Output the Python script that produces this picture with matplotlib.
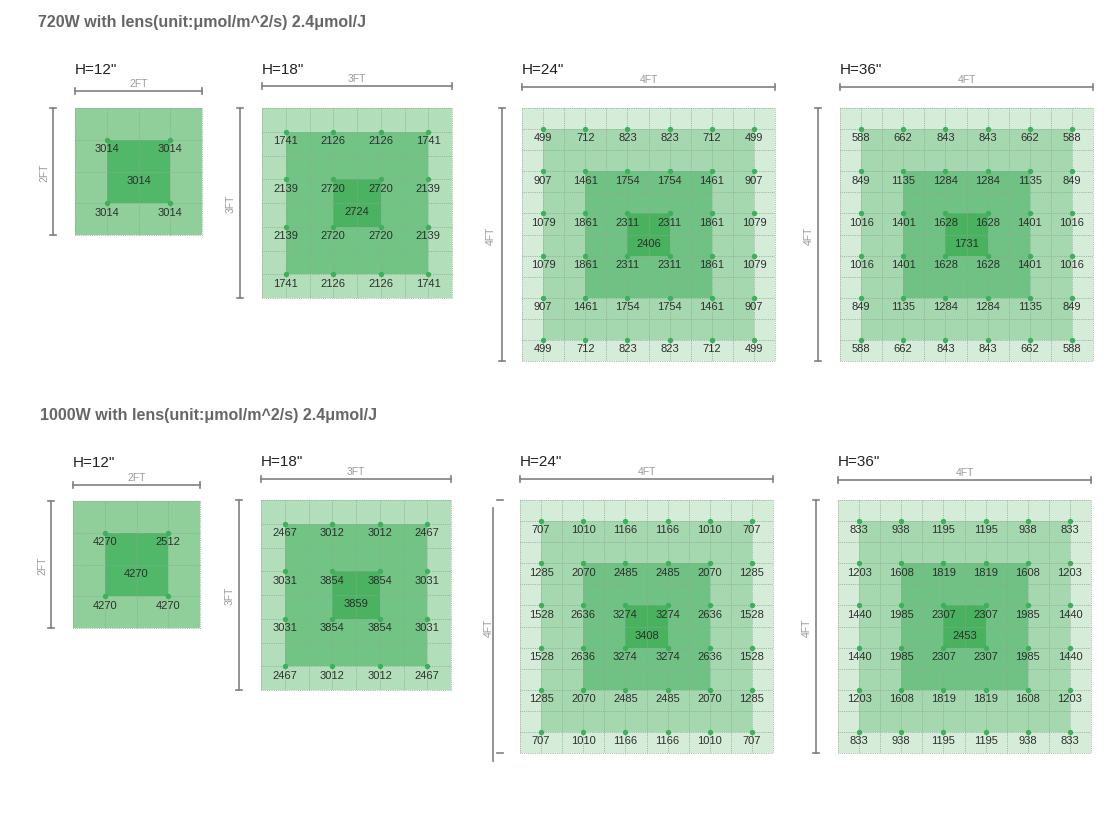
import matplotlib
matplotlib.use('Agg')
import matplotlib.pyplot as plt
from matplotlib.patches import Rectangle

plt.rcParams['font.family'] = ['Liberation Sans', 'DejaVu Sans']

W, H = 1117, 820

# section titles
titles = ['720W with lens(unit:\u03bcmol/m^2/s) 2.4\u03bcmol/J',
          '1000W with lens(unit:\u03bcmol/m^2/s) 2.4\u03bcmol/J']

heights = ['H=12"', 'H=18"', 'H=24"', 'H=36"']
spans = ['2FT', '3FT', '4FT', '4FT']

# PPFD readings (rows top->bottom, cols left->right) and centre value
ppfd_720_12 = [[3014, 3014],
               [3014, 3014]]
center_720_12 = 3014
ppfd_720_18 = [[1741, 2126, 2126, 1741],
               [2139, 2720, 2720, 2139],
               [2139, 2720, 2720, 2139],
               [1741, 2126, 2126, 1741]]
center_720_18 = 2724
ppfd_720_24 = [[499, 712, 823, 823, 712, 499],
               [907, 1461, 1754, 1754, 1461, 907],
               [1079, 1861, 2311, 2311, 1861, 1079],
               [1079, 1861, 2311, 2311, 1861, 1079],
               [907, 1461, 1754, 1754, 1461, 907],
               [499, 712, 823, 823, 712, 499]]
center_720_24 = 2406
ppfd_720_36 = [[588, 662, 843, 843, 662, 588],
               [849, 1135, 1284, 1284, 1135, 849],
               [1016, 1401, 1628, 1628, 1401, 1016],
               [1016, 1401, 1628, 1628, 1401, 1016],
               [849, 1135, 1284, 1284, 1135, 849],
               [588, 662, 843, 843, 662, 588]]
center_720_36 = 1731

ppfd_1000_12 = [[4270, 2512],
                [4270, 4270]]
center_1000_12 = 4270
ppfd_1000_18 = [[2467, 3012, 3012, 2467],
                [3031, 3854, 3854, 3031],
                [3031, 3854, 3854, 3031],
                [2467, 3012, 3012, 2467]]
center_1000_18 = 3859
ppfd_1000_24 = [[707, 1010, 1166, 1166, 1010, 707],
                [1285, 2070, 2485, 2485, 2070, 1285],
                [1528, 2636, 3274, 3274, 2636, 1528],
                [1528, 2636, 3274, 3274, 2636, 1528],
                [1285, 2070, 2485, 2485, 2070, 1285],
                [707, 1010, 1166, 1166, 1010, 707]]
center_1000_24 = 3408
ppfd_1000_36 = [[833, 938, 1195, 1195, 938, 833],
                [1203, 1608, 1819, 1819, 1608, 1203],
                [1440, 1985, 2307, 2307, 1985, 1440],
                [1440, 1985, 2307, 2307, 1985, 1440],
                [1203, 1608, 1819, 1819, 1608, 1203],
                [833, 938, 1195, 1195, 938, 833]]
center_1000_36 = 2453

# fill colours per grid size, outer -> inner
shades = {4: ['#90cf9a', '#52b869'],
          8: ['#b2dfba', '#72c485', '#4bb261'],
          12: ['#d5ecd9', '#a6d8b0', '#6fc283', '#48b25f']}

fig = plt.figure(figsize=(W / 100, H / 100), dpi=100)


def px_axes(x0, y0, size):
    return fig.add_axes([x0 / W, 1 - (y0 + size) / H, size / W, size / H])


def panel(x0, y0, size, n, vals, center, title, span, bar_gap):
    ax = px_axes(x0, y0, size)
    ax.set_xlim(0, n)
    ax.set_ylim(n, 0)
    ax.axis('off')
    cell = size / n
    for m, c in zip([0, 1, 3, 5], shades[n]):
        ax.add_patch(Rectangle((m, m), n - 2 * m, n - 2 * m, color=c, lw=0, zorder=1))
    for i in range(n + 1):
        ax.plot([i, i], [0, n], ls=(0, (1, 1.2)), lw=0.6, color='#8fa894', zorder=2, clip_on=False)
        ax.plot([0, n], [i, i], ls=(0, (1, 1.2)), lw=0.6, color='#8fa894', zorder=2, clip_on=False)
    k = len(vals)
    for r in range(k):
        for c in range(k):
            x, y = 2 * c + 1, 2 * r + 1
            ax.scatter([x], [y], s=15, color='#3cb05a', zorder=4, clip_on=False, linewidths=0)
            ax.annotate(str(vals[r][c]), (x, y), xytext=(0, -6), textcoords='offset points',
                        ha='center', va='center', fontsize=8, color='#2e2e2e', zorder=5)
    ax.annotate(str(center), (n / 2, n / 2), xytext=(0, -6), textcoords='offset points',
                ha='center', va='center', fontsize=8, color='#2e2e2e', zorder=5)

    # dimension bars (pixel offsets converted to cell units)
    by = -bar_gap / cell
    t = 3 / cell
    ax.plot([0, n], [by, by], color='#808080', lw=1.2, clip_on=False)
    ax.plot([0, 0], [by - t, by + t], color='#808080', lw=1.2, clip_on=False)
    ax.plot([n, n], [by - t, by + t], color='#808080', lw=1.2, clip_on=False)
    ax.text(n / 2, by - 8 / cell, span, ha='center', va='center', fontsize=7.5, color='#9a9a9a')
    ax.text(0, -39 / cell, title, ha='left', va='center', fontsize=11, color='#222222')
    return ax, cell


def vbar(ax, cell, n, span, xoff=22, y0=0.0, y1=None, ticks=None):
    bx = -xoff / cell
    y1 = n if y1 is None else y1
    t = 3 / cell
    ax.plot([bx, bx], [y0, y1], color='#808080', lw=1.2, clip_on=False)
    tx = bx if ticks is None else ticks[0]
    ax.plot([tx - t, tx + t], [y0 if ticks is None else ticks[1]] * 2, color='#808080', lw=1.2, clip_on=False)
    ax.plot([tx - t, tx + t], [y1 if ticks is None else ticks[2]] * 2, color='#808080', lw=1.2, clip_on=False)
    ax.text(-31 / cell, n / 2, span, rotation=90, ha='center', va='center', fontsize=7.5, color='#9a9a9a')


fig.text(38 / W, 1 - 22 / H, titles[0], ha='left', va='center', fontsize=11.5, fontweight='bold', color='#666666')
fig.text(40 / W, 1 - 416 / H, titles[1], ha='left', va='center', fontsize=11.5, fontweight='bold', color='#666666')

# top row (720W)
ax, cell = panel(75, 109, 127, 4, ppfd_720_12, center_720_12, heights[0], spans[0], 17)
vbar(ax, cell, 4, spans[0])
ax, cell = panel(262, 109, 190, 8, ppfd_720_18, center_720_18, heights[1], spans[1], 22)
vbar(ax, cell, 8, spans[1])
ax, cell = panel(522, 109, 253, 12, ppfd_720_24, center_720_24, heights[2], spans[2], 21)
vbar(ax, cell, 12, spans[2], xoff=20)
ax, cell = panel(840, 109, 253, 12, ppfd_720_36, center_720_36, heights[3], spans[3], 21)
vbar(ax, cell, 12, spans[3])

# bottom row (1000W)
ax, cell = panel(73, 502, 127, 4, ppfd_1000_12, center_1000_12, heights[0], spans[0], 16)
vbar(ax, cell, 4, spans[0])
ax, cell = panel(261, 501, 190, 8, ppfd_1000_18, center_1000_18, heights[1], spans[1], 21)
vbar(ax, cell, 8, spans[1])
ax, cell = panel(520, 501, 253, 12, ppfd_1000_24, center_1000_24, heights[2], spans[2], 21)
vbar(ax, cell, 12, spans[2], xoff=27, y0=8 / cell, y1=12 + 8 / cell, ticks=(-20 / cell, 0, 12 - 0.0))
ax, cell = panel(838, 501, 253, 12, ppfd_1000_36, center_1000_36, heights[3], spans[3], 20)
vbar(ax, cell, 12, spans[3])

fig.savefig('out.png', dpi=100, facecolor='white')
